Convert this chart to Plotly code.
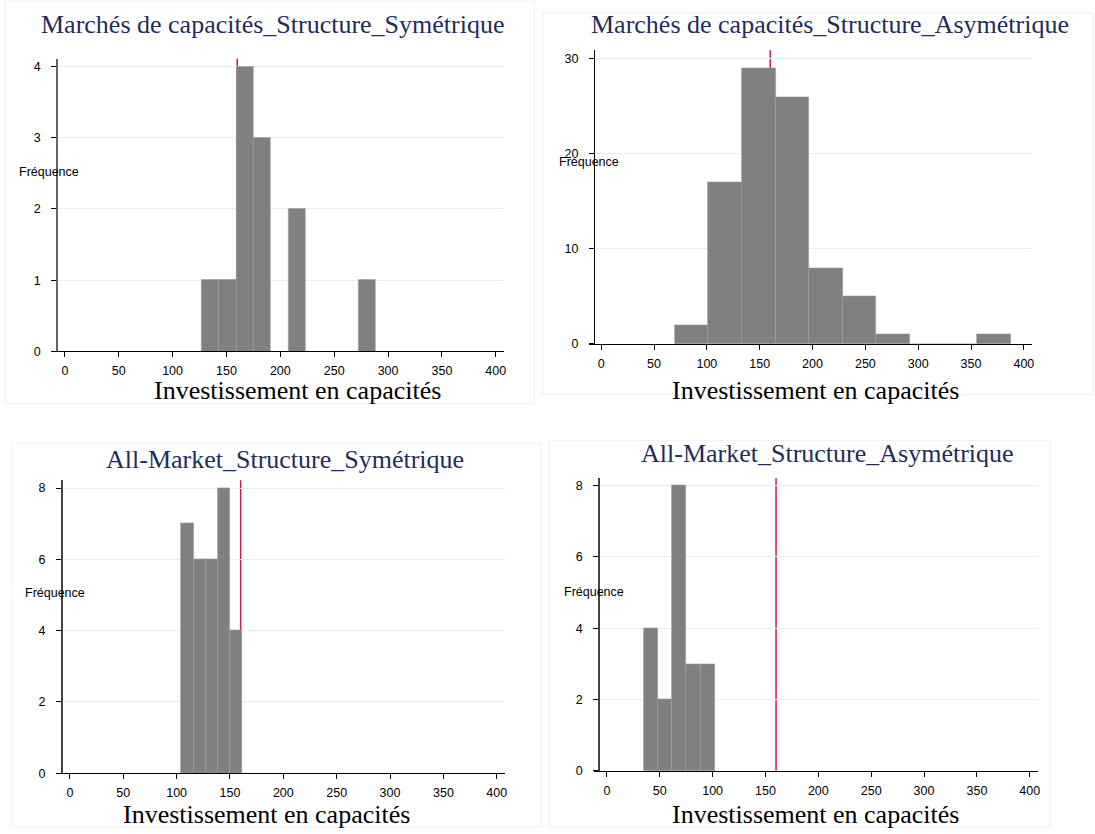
import plotly.graph_objects as go

W, H = 1095, 834

# ---------------- data ----------------
titles = ["Marchés de capacités_Structure_Symétrique",
          "Marchés de capacités_Structure_Asymétrique",
          "All-Market_Structure_Symétrique",
          "All-Market_Structure_Asymétrique"]
x_title = "Investissement en capacités"
y_title = "Fréquence"

p1_edges = [126.6, 142.8, 159.0, 175.2, 191.4, 207.6, 223.8, 240.0, 256.2, 272.4, 288.6]
p1_counts = [1, 1, 4, 3, 0, 2, 0, 0, 0, 1]

p2_edges = [69.6, 101.4, 133.2, 165.0, 196.8, 228.6, 260.4, 292.2, 324.0, 355.8, 387.6]
p2_counts = [2, 17, 29, 26, 8, 5, 1, 0, 0, 1]

p3_edges = [104.4, 115.8, 127.2, 138.6, 150.0, 161.4]
p3_counts = [7, 6, 6, 8, 4]

p4_edges = [34.9, 48.3, 61.7, 75.1, 88.5, 101.9]
p4_counts = [4, 2, 8, 3, 3]

ref_value = 160

x_ticks = [0, 50, 100, 150, 200, 250, 300, 350, 400]
y_ticks = [[0, 1, 2, 3, 4], [0, 10, 20, 30], [0, 2, 4, 6, 8], [0, 2, 4, 6, 8]]

# ---------------- layout geometry (window pixels) ----------------
panels = [
    dict(edges=p1_edges, counts=p1_counts, xd=(51.7, 505), yd=(59.3, 354.3), ypos=57.3,
         xr=(-12.3, 407.7), yr=(0, 4.11), title_c=(274, 25), xt_c=(298.5, 394), fq_c=(49.5, 173),
         ycol="#666666", yw=1.8),
    dict(edges=p2_edges, counts=p2_counts, xd=(590, 1034.3), yd=(50.7, 346.7), ypos=595,
         xr=(-11.6, 408.1), yr=(0, 30.9), title_c=(831.5, 25), xt_c=(817, 394), fq_c=(590, 163),
         ycol="black", yw=1),
    dict(edges=p3_edges, counts=p3_counts, xd=(57, 506), yd=(484.3, 779.7), ypos=61.7,
         xr=(-12.2, 407.8), yr=(0, 8.22), title_c=(286, 463), xt_c=(266.5, 821), fq_c=(55, 598),
         ycol="#444444", yw=1.5),
    dict(edges=p4_edges, counts=p4_counts, xd=(595, 1040), yd=(482.3, 777.3), ypos=600,
         xr=(-12.3, 407.9), yr=(0, 8.21), title_c=(829, 457), xt_c=(817, 821), fq_c=(595, 597),
         ycol="#444444", yw=1.5),
]


def px(x):
    return x / W


def py(y):
    return 1 - y / H


fig = go.Figure()
annotations = []
shapes = []
tick_font = dict(family="Liberation Sans, Arial", size=12.5, color="black")
serif = "Liberation Serif, Times New Roman"

for i, p in enumerate(panels):
    n = i + 1
    xa = "x" if n == 1 else f"x{n}"
    ya = "y" if n == 1 else f"y{n}"
    lefts = p["edges"][:-1]
    widths = [b - a for a, b in zip(p["edges"][:-1], p["edges"][1:])]
    fig.add_trace(go.Bar(x=lefts, y=p["counts"], width=widths, offset=0,
                         marker=dict(color="#808080", line=dict(color="#9c9c9c", width=0.6)),
                         xaxis=xa, yaxis=ya, showlegend=False, hoverinfo="x+y"))
    fig.update_layout(**{
        ("xaxis" if n == 1 else f"xaxis{n}"): dict(
            domain=[px(p["xd"][0]), px(p["xd"][1])], range=list(p["xr"]),
            anchor=ya, tickvals=x_ticks, ticks="outside", ticklen=5, tickcolor="black",
            showline=True, linecolor="black", linewidth=1, showgrid=False, zeroline=False,
            tickfont=tick_font, ticklabelstandoff=3),
        ("yaxis" if n == 1 else f"yaxis{n}"): dict(
            domain=[py(p["yd"][1]), py(p["yd"][0])], range=list(p["yr"]),
            anchor="free", position=px(p["ypos"]), tickvals=y_ticks[i],
            ticks="outside", ticklen=5, tickcolor="black",
            showline=True, linecolor=p["ycol"], linewidth=p["yw"],
            showgrid=True, gridcolor="#e6eff0", gridwidth=1, zeroline=False,
            tickfont=tick_font, ticklabelstandoff=8),
    })
    shapes.append(dict(type="line", xref=xa, yref=f"{ya} domain", x0=ref_value, x1=ref_value,
                       y0=0, y1=1, line=dict(color="#cc1f48", width=1.5), layer="below"))
    annotations.append(dict(text=titles[i], x=px(p["title_c"][0]), y=py(p["title_c"][1]),
                            xref="paper", yref="paper", xanchor="center", yanchor="middle",
                            showarrow=False, font=dict(family=serif, size=26, color="#1f2d5c")))
    annotations.append(dict(text=x_title, x=px(p["xt_c"][0]), y=py(p["xt_c"][1]),
                            xref="paper", yref="paper", xanchor="center", yanchor="middle",
                            showarrow=False, font=dict(family=serif, size=26, color="black")))
    annotations.append(dict(text=y_title, x=px(p["fq_c"][0]), y=py(p["fq_c"][1]),
                            xref="paper", yref="paper", xanchor="center", yanchor="middle",
                            showarrow=False, font=tick_font))

# faint frames of the four pasted images
frames = [(5, 0, 535, 407), (544, 13, 1095, 398), (12, 447, 542, 834), (550, 444, 1052, 834)]
for (x0, y0, x1, y1) in frames:
    shapes.append(dict(type="rect", xref="paper", yref="paper", x0=px(x0), x1=px(x1),
                       y0=py(y1), y1=py(y0), line=dict(color="#eef1f1", width=1), layer="below"))

fig.update_layout(width=W, height=H, autosize=False, margin=dict(l=0, r=0, t=0, b=0),
                  paper_bgcolor="white", plot_bgcolor="white", bargap=0,
                  annotations=annotations, shapes=shapes)

# remove the page's default 8px body margin so the figure fills the window exactly
fig.write_html("out.html", config={"displayModeBar": False},
               post_script="document.body.style.margin='0';")
